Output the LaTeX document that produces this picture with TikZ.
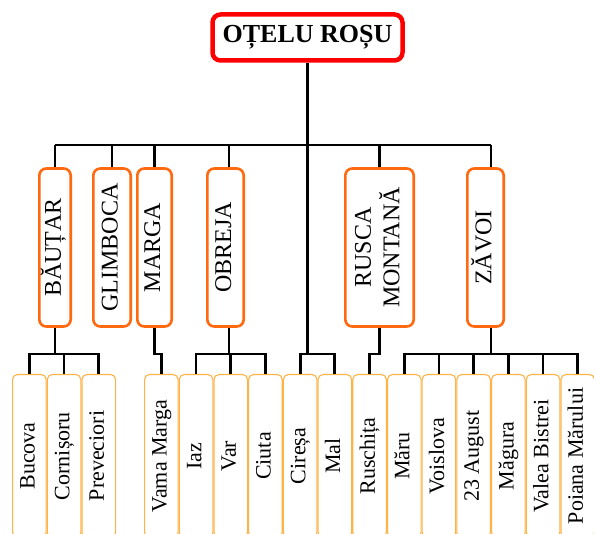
\documentclass[tikz,border=0pt]{standalone}
\usepackage{fontspec}
\setmainfont{Liberation Serif}
\usepackage{graphicx}
\usetikzlibrary{calc,positioning}

\definecolor{titlered}{HTML}{FF0000}
\definecolor{communeorange}{HTML}{FF6A10}
\definecolor{villageorange}{HTML}{FFB347}

\tikzset{
    townbox/.style={draw=titlered, line width=4.5pt, rounded corners=8pt, fill=white,
        minimum width=190pt, minimum height=46pt, inner sep=0pt,
        font=\bfseries\fontsize{26}{30}\selectfont},
    commune/.style={draw=communeorange, line width=2.6pt, rounded corners=7pt, fill=white,
        minimum height=158pt, inner sep=0pt, font=\fontsize{24}{28}\selectfont},
    village/.style={draw=villageorange, line width=1.1pt, rounded corners=5pt, fill=white,
        minimum width=33.6pt, minimum height=163pt, inner sep=0pt,
        font=\fontsize{22}{26}\selectfont},
    link/.style={line width=2.8pt, black},
}

\begin{document}
\begin{tikzpicture}[x=1pt, y=-1pt]
    \useasboundingbox (0,0) rectangle (594,534);
    \clip (0,0) rectangle (594,534);

    \node[townbox] (town) at (307.5,37.5) {OȚELU ROȘU};

    \node[commune, minimum width=31.4pt] (bau) at (55,247.5)  {\rotatebox{90}{\strut BĂUȚAR}};
    \node[commune, minimum width=37.4pt] (gli) at (112,247.5) {\rotatebox{90}{\strut GLIMBOCA}};
    \node[commune, minimum width=34.4pt] (mar) at (154.5,247.5) {\rotatebox{90}{\strut MARGA}};
    \node[commune, minimum width=36.4pt] (obr) at (225.5,247.5) {\rotatebox{90}{\strut OBREJA}};
    \node[commune, minimum width=68.4pt] (rus) at (379.5,247.5)
        {\rotatebox{90}{\begin{tabular}{@{}c@{}}RUSCA\\MONTANĂ\end{tabular}}};
    \node[commune, minimum width=36.4pt] (zav) at (485.5,247.5) {\rotatebox{90}{\strut ZĂVOI}};

    % villages
    \foreach \name [count=\i] in {Bucova, Cornișoru, Preveciori}
        \node[village] (v\i) at ({12+34.7*(\i-0.5)},456) {\rotatebox{90}{\strut \name}};
    \foreach \name [count=\i from 4] in {Vama Marga, Iaz, Var, Ciuta, Cireșa, Mal, Ruschița,
            Măru, Voislova, 23 August, Măgura, Valea Bistrei, Poiana Mărului}
        \node[village] (v\i) at ({144+34.7*(\i-3.5)},456) {\rotatebox{90}{\strut \name}};

    \coordinate (bus) at (0,145);
    \coordinate (lvl) at (0,354);

    % upper tree
    \draw[link] (town.south) -- (town.south |- lvl);
    \draw[link] (bau.north |- bus) -- ([xshift=5.5pt]zav.north |- bus);
    \foreach \c in {bau, gli, mar, rus}
        \draw[link] (\c.north) -- (\c.north |- bus);
    \draw[link] ([xshift=3.5pt]obr.north) -- ([xshift=3.5pt]obr.north |- bus);
    \draw[link] ([xshift=5.5pt]zav.north) -- ([xshift=5.5pt]zav.north |- bus);

    % lower tree
    \draw[link] (bau.south) -- (bau.south |- lvl);
    \draw[link] (v1.north) |- (v3.north |- lvl) -- (v3.north);
    \draw[link] (v2.north) -- (v2.north |- lvl);

    \draw[link] (mar.south) -- (mar.south |- lvl) -| (v4.north);

    \draw[link] ([xshift=3.5pt]obr.south) -- ([xshift=3.5pt]obr.south |- lvl);
    \draw[link] (v5.north) |- (v7.north |- lvl) -- (v7.north);
    \draw[link] (v6.north) -- (v6.north |- lvl);

    \draw[link] (v8.north) |- (v9.north |- lvl) -- (v9.north);

    \draw[link] (rus.south) -- (rus.south |- lvl) -| (v10.north);

    \draw[link] ([xshift=5.5pt]zav.south) -- ([xshift=5.5pt]zav.south |- lvl);
    \draw[link] (v11.north) |- (v16.north |- lvl) -- (v16.north);
    \foreach \k in {12,...,15}
        \draw[link] (v\k.north) -- (v\k.north |- lvl);
\end{tikzpicture}
\end{document}
